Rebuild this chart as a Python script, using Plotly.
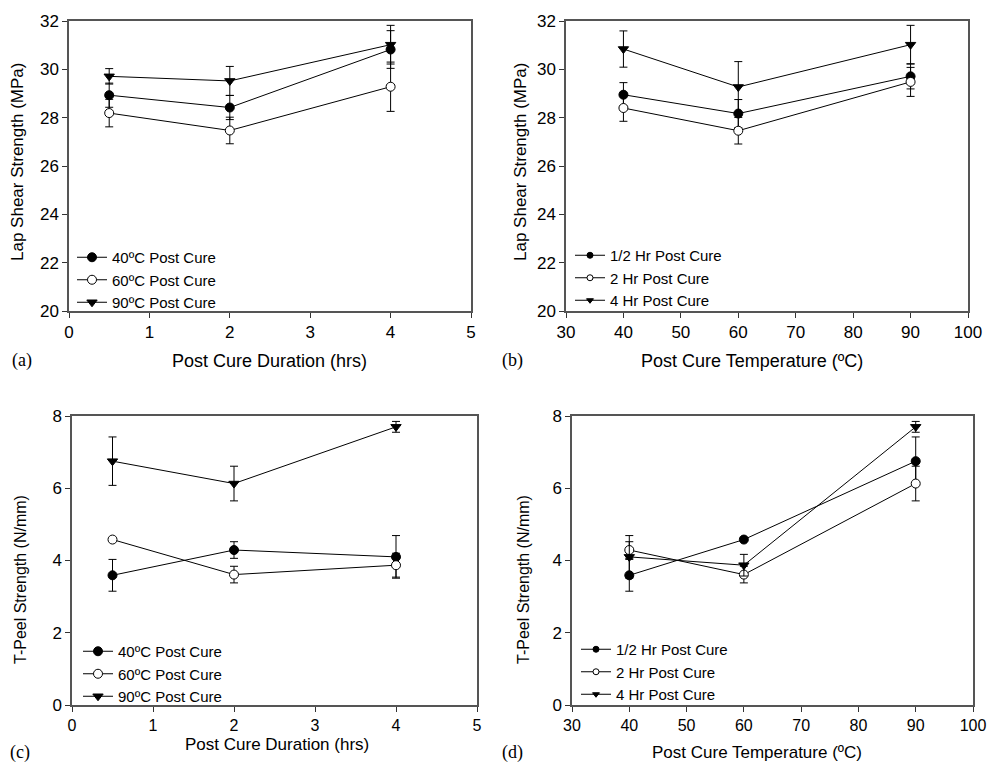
import plotly.graph_objects as go

W, H = 987, 763

# ---------------- data ----------------
duration_hrs = [0.5, 2, 4]
temperature_c = [40, 60, 90]

# (a) Lap shear vs duration, series by temperature
lap_40c = [28.93, 28.42, 30.82]
lap_40c_err = [0.50, 0.50, 0.78]
lap_60c = [28.19, 27.47, 29.28]
lap_60c_err = [0.57, 0.55, 1.02]
lap_90c = [29.71, 29.52, 31.02]
lap_90c_err = [0.32, 0.60, 0.80]

# (b) Lap shear vs temperature, series by duration
lap_half = [28.95, 28.17, 29.71]
lap_half_err = [0.50, 0.58, 0.52]
lap_2hr = [28.40, 27.46, 29.48]
lap_2hr_err = [0.55, 0.55, 0.60]
lap_4hr = [30.84, 29.27, 31.02]
lap_4hr_err = [0.75, 1.05, 0.80]

# (c) T-peel vs duration, series by temperature
tp_40c = [3.59, 4.29, 4.10]
tp_40c_err = [0.44, 0.23, 0.59]
tp_60c = [4.58, 3.61, 3.87]
tp_60c_err = [0.04, 0.23, 0.33]
tp_90c = [6.75, 6.13, 7.70]
tp_90c_err = [0.67, 0.48, 0.15]

# (d) T-peel vs temperature, series by duration
tp_half = [3.59, 4.58, 6.75]
tp_half_err = [0.44, 0.04, 0.67]
tp_2hr = [4.29, 3.61, 6.13]
tp_2hr_err = [0.23, 0.23, 0.48]
tp_4hr = [4.10, 3.87, 7.70]
tp_4hr_err = [0.59, 0.30, 0.15]

temp_names = ["40ºC Post Cure", "60ºC Post Cure", "90ºC Post Cure"]
dur_names = ["1/2 Hr Post Cure", "2 Hr Post Cure", "4 Hr Post Cure"]

# ---------------- helpers ----------------
def px(x):
    return x / W

def py(y):
    return 1 - y / H

FONT = "Liberation Sans, Arial, sans-serif"
SERIF = "Liberation Serif, Times New Roman, serif"

styles = [
    dict(symbol="circle", color="black", line=dict(color="black", width=1)),
    dict(symbol="circle", color="white", line=dict(color="black", width=1)),
    dict(symbol="triangle-down", color="black", line=dict(color="black", width=1)),
]

fig = go.Figure()

panels = [
    ("x", "y", duration_hrs, [(lap_40c, lap_40c_err), (lap_60c, lap_60c_err), (lap_90c, lap_90c_err)], temp_names, "legend", 9),
    ("x2", "y2", temperature_c, [(lap_half, lap_half_err), (lap_2hr, lap_2hr_err), (lap_4hr, lap_4hr_err)], dur_names, "legend2", 6),
    ("x3", "y3", duration_hrs, [(tp_40c, tp_40c_err), (tp_60c, tp_60c_err), (tp_90c, tp_90c_err)], temp_names, "legend3", 9),
    ("x4", "y4", temperature_c, [(tp_half, tp_half_err), (tp_2hr, tp_2hr_err), (tp_4hr, tp_4hr_err)], dur_names, "legend4", 6),
]

for xa, ya, xs, series, names, leg, legsize in panels:
    for (vals, errs), name, st in zip(series, names, styles):
        fig.add_trace(go.Scatter(
            x=xs, y=vals, xaxis=xa, yaxis=ya, mode="lines+markers",
            line=dict(color="black", width=1),
            marker=dict(size=9, **st),
            error_y=dict(type="data", array=errs, visible=True, color="black", thickness=1, width=4),
            showlegend=False, name=name,
        ))
    for name, st in zip(names, styles):
        fig.add_trace(go.Scatter(
            x=[None], y=[None], xaxis=xa, yaxis=ya, mode="lines+markers",
            line=dict(color="black", width=1),
            marker=dict(size=legsize, **st),
            name=name, legend=leg, showlegend=True,
        ))

def axis_common(fs):
    return dict(
        showline=True, mirror=True, linecolor="#555", linewidth=1.5,
        ticks="outside", ticklen=5, tickcolor="#333", tickwidth=1,
        showgrid=False, zeroline=False, automargin=False,
        tickfont=dict(family=FONT, size=fs, color="black"),
    )

fig.update_layout(
    template="none",
    width=W, height=H,
    margin=dict(l=0, r=0, t=0, b=0, autoexpand=False),
    paper_bgcolor="white", plot_bgcolor="white",
    xaxis=dict(domain=[px(69), px(471)], range=[0, 5], dtick=1, anchor="y", **axis_common(17)),
    yaxis=dict(domain=[py(311), py(21)], range=[20, 32], dtick=2, anchor="x", **axis_common(17)),
    xaxis2=dict(domain=[px(566), px(968)], range=[30, 100], dtick=10, anchor="y2", **axis_common(17)),
    yaxis2=dict(domain=[py(311), py(21)], range=[20, 32], dtick=2, anchor="x2", **axis_common(17)),
    xaxis3=dict(domain=[px(72), px(477)], range=[0, 5], dtick=1, anchor="y3", **axis_common(16)),
    yaxis3=dict(domain=[py(705), py(416)], range=[0, 8], dtick=2, anchor="x3", **axis_common(17)),
    xaxis4=dict(domain=[px(572), px(973)], range=[30, 100], dtick=10, anchor="y4", **axis_common(16)),
    yaxis4=dict(domain=[py(705), py(416)], range=[0, 8], dtick=2, anchor="x4", **axis_common(17)),
)

leg_common = dict(font=dict(family=FONT, size=15, color="black"), bgcolor="rgba(0,0,0,0)",
                  xanchor="left", yanchor="top", tracegroupgap=0, itemclick=False,
                  borderwidth=0)
fig.update_layout(
    legend=dict(x=px(72), y=py(241), **leg_common),
    legend2=dict(x=px(570), y=py(239), **leg_common),
    legend3=dict(x=px(78), y=py(635), **leg_common),
    legend4=dict(x=px(576), y=py(633), **leg_common),
)

annots = [
    ("Post Cure Duration (hrs)", 269, 361, 0, FONT, 18),
    ("Post Cure Temperature (ºC)", 752, 361, 0, FONT, 18),
    ("Post Cure Duration (hrs)", 277, 744, 0, FONT, 17),
    ("Post Cure Temperature (ºC)", 757, 752, 0, FONT, 17),
    ("Lap Shear Strength (MPa)", 18, 162, -90, FONT, 17),
    ("Lap Shear Strength (MPa)", 521, 162, -90, FONT, 17),
    ("T-Peel Strength (N/mm)", 20, 580, -90, FONT, 16),
    ("T-Peel Strength (N/mm)", 523, 580, -90, FONT, 16),
    ("(a)", 22, 361, 0, SERIF, 18),
    ("(b)", 512, 361, 0, SERIF, 18),
    ("(c)", 20, 752, 0, SERIF, 18),
    ("(d)", 512, 752, 0, SERIF, 18),
]
for text, x, y, ang, fam, size in annots:
    fig.add_annotation(text=text, x=px(x), y=py(y), xref="paper", yref="paper",
                       showarrow=False, textangle=ang, xanchor="center", yanchor="middle",
                       font=dict(family=fam, size=size, color="black"))

fig.write_html("out.html")
